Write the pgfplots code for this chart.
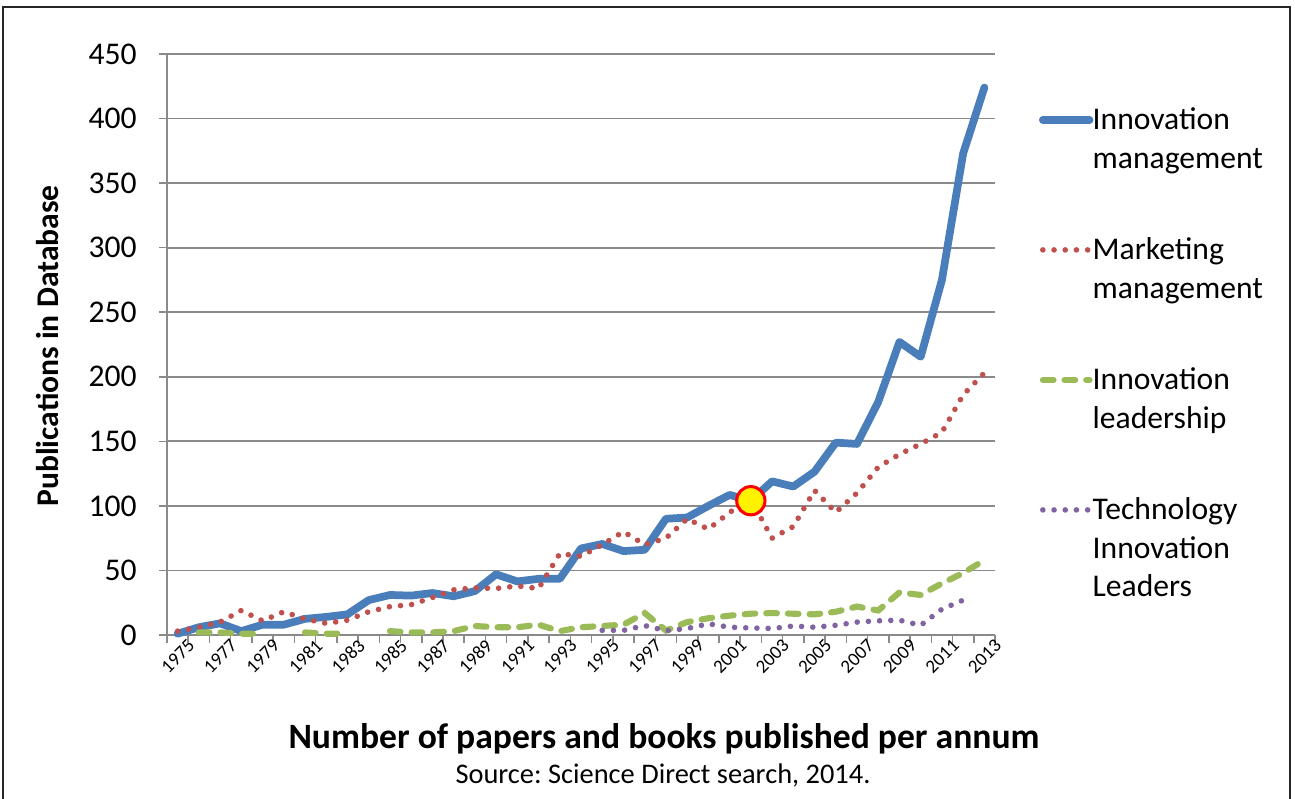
\documentclass[border=0pt]{standalone}
\usepackage{fontspec}
\setmainfont{Carlito}
\usepackage{pgfplots}
\pgfplotsset{compat=1.18}
\frenchspacing
\definecolor{imblue}{HTML}{4A7EBB}
\definecolor{mmred}{HTML}{C0504D}
\definecolor{ilgreen}{HTML}{9BBB59}
\definecolor{tipurple}{HTML}{8064A2}
\definecolor{gridgray}{HTML}{8A8A8A}
\begin{document}
\begin{tikzpicture}
\useasboundingbox (-125.25pt,-123pt) rectangle (846pt,476.25pt);
\draw[line width=1.1pt, black!85] (-123pt,-130pt) -- (-123pt,471pt) -- (842.25pt,471pt) -- (842.25pt,-130pt);
\begin{axis}[
  at={(0pt,0pt)}, anchor=south west,
  scale only axis, width=621pt, height=435.75pt,
  xmin=1974.5, xmax=2013.5, ymin=0, ymax=450,
  clip=false,
  axis lines=left,
  axis line style={-, draw=gridgray, line width=1.4pt},
  tick align=outside,
  major tick length=6pt,
  every tick/.style={draw=gridgray, line width=1.2pt},
  ymajorgrids,
  grid style={draw=gridgray, line width=1.4pt},
  ytick={0,50,...,450},
  /pgf/number format/assume math mode=true,
  yticklabel style={font=\fontsize{23.7}{28}\selectfont, inner sep=0pt, xshift=-16.5pt},
  xtick={1974.5,1975.5,...,2013.5},
  xticklabels={},
  extra x ticks={1975,1977,...,2013},
  extra x tick labels={1975,1977,1979,1981,1983,1985,1987,1989,1991,1993,1995,1997,1999,2001,2003,2005,2007,2009,2011,2013},
  extra x tick style={major tick length=0pt, grid=none,
    tick label style={rotate=45, anchor=north east, inner sep=0pt, yshift=-6.5pt, xshift=3.5pt, font=\fontsize{14.2}{16}\selectfont}},
  ylabel={Publications in Database},
  every axis y label/.style={at={(axis description cs:-0.1449,0.4974)}, rotate=90, anchor=center, font=\bfseries\fontsize{23.7}{28}\selectfont},
  xlabel={Number of papers and books published per annum},
  every axis x label/.style={at={(axis description cs:0.6002,-0.1785)}, anchor=center, font=\bfseries\fontsize{26.7}{30}\selectfont},
  unbounded coords=jump,
  legend style={at={(rel axis cs:1.0528,0.9208)}, anchor=north west, draw=none, fill=none, inner sep=0pt,
    font=\fontsize{23.7}{28.9}\selectfont, row sep={97.5pt,between origins}, column sep=-2.5pt,
    cells={anchor=base west, inner xsep=0pt}},
  legend image code/.code={\draw[#1] (2.5pt,7.5pt) -- (37.5pt,7.5pt);},
]
\addplot[imblue, line width=5.8pt, line cap=round, line join=round] coordinates {
(1975,1) (1976,6) (1977,9) (1978,3) (1979,8) (1980,8) (1981,12.5) (1982,14) (1983,16) (1984,27)
(1985,31) (1986,30.5) (1987,32.5) (1988,30) (1989,34) (1990,47) (1991,41.5) (1992,43.5) (1993,43.5) (1994,67)
(1995,70.5) (1996,65) (1997,66) (1998,90) (1999,91) (2000,100) (2001,108.5) (2002,104) (2003,119) (2004,115)
(2005,126.5) (2006,149) (2007,148) (2008,180.5) (2009,227) (2010,215.5) (2011,275) (2012,373) (2013,424)};
\addlegendentry{\begin{tabular}[t]{@{}l@{}}Innovation\\management\end{tabular}}
\addplot[mmred, line width=4.2pt, line cap=round, dash pattern=on 0pt off 8.4pt] coordinates {
(1975,3) (1976,6) (1977,10) (1978,19) (1979,11) (1980,18) (1981,12.5) (1982,9) (1983,11.5) (1984,18)
(1985,22) (1986,23.5) (1987,29) (1988,35) (1989,36.5) (1990,36) (1991,38) (1992,36) (1993,63) (1994,61)
(1995,70) (1996,80) (1997,70) (1998,75) (1999,90) (2000,82) (2001,95) (2002,105) (2003,75) (2004,84)
(2005,112) (2006,95) (2007,110) (2008,130) (2009,140) (2010,148) (2011,157) (2012,186) (2013,203)};
\addlegendentry{\begin{tabular}[t]{@{}l@{}}Marketing\\management\end{tabular}}
\addplot[ilgreen, line width=4.6pt, line cap=round, dash pattern=on 8pt off 8.25pt] coordinates {
(1975,nan) (1976,2) (1977,2) (1978,1) (1979,1) (1980,nan) (1981,2) (1982,1) (1983,1) (1984,nan)
(1985,3) (1986,2) (1987,2) (1988,3) (1989,7) (1990,6) (1991,6) (1992,8) (1993,3) (1994,6)
(1995,7) (1996,8) (1997,17) (1998,3.5) (1999,10) (2000,13) (2001,15) (2002,16.5) (2003,17) (2004,16.5)
(2005,16) (2006,18) (2007,22) (2008,19) (2009,33) (2010,31) (2011,40) (2012,48) (2013,58)};
\addlegendentry{\begin{tabular}[t]{@{}l@{}}Innovation\\leadership\end{tabular}}
\addplot[tipurple, line width=4.2pt, line cap=round, dash pattern=on 0pt off 8.4pt] coordinates {
(1975,nan) (1994,nan)
(1995,3.6) (1996,3.6) (1997,7.3) (1998,3.3) (1999,5) (2000,8.7) (2001,6) (2002,5.5) (2003,5) (2004,7)
(2005,6) (2006,7.5) (2007,10) (2008,11) (2009,11.5) (2010,7.5) (2011,20) (2012,27)};
\addlegendentry{\begin{tabular}[t]{@{}l@{}}Technology\\Innovation\\Leaders\end{tabular}}
\addplot[only marks, mark=*, mark size=10.6pt, mark options={fill=yellow, draw=red, line width=2.3pt}, forget plot] coordinates {(2002,104)};
\node[anchor=center, font=\fontsize{21.3}{25}\selectfont] at (axis description cs:0.599,-0.241) {Source: Science Direct search, 2014.};
\end{axis}
\end{tikzpicture}
\end{document}
